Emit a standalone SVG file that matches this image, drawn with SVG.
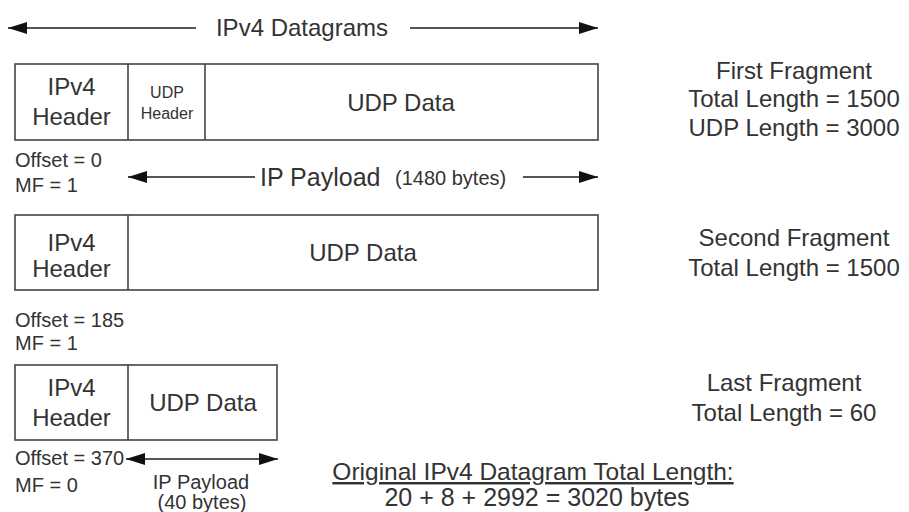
<svg xmlns="http://www.w3.org/2000/svg" width="909" height="512" viewBox="0 0 909 512">
<defs>
<marker id="ah" markerWidth="19" markerHeight="12" refX="19" refY="6" orient="auto-start-reverse" markerUnits="userSpaceOnUse">
<path d="M0,0 L19,6 L0,12 Z" fill="#111"/>
</marker>
<style>
text{font-family:"Liberation Sans",Arial,sans-serif;fill:#333}
.c{text-anchor:middle}
.b{font-size:24px}
.m{font-size:20px}
.s{font-size:16px}
.box{fill:#fff;stroke:#444;stroke-width:1.6}
.div{stroke:#444;stroke-width:1.6}
.arr{stroke:#555;stroke-width:2;fill:none}
</style>
</defs>
<rect width="909" height="512" fill="#fff"/>
<g id="connectors">
<line class="arr" x1="196" y1="28" x2="8" y2="28" marker-end="url(#ah)"/>
<line class="arr" x1="410" y1="28" x2="598" y2="28" marker-end="url(#ah)"/>
<line class="arr" x1="255" y1="177" x2="128" y2="177" marker-end="url(#ah)"/>
<line class="arr" x1="523" y1="177" x2="598" y2="177" marker-end="url(#ah)"/>
<line class="arr" x1="126" y1="459" x2="278" y2="459" marker-start="url(#ah)" marker-end="url(#ah)"/>
</g>
<g id="title"><text class="b c" x="302" y="36">IPv4 Datagrams</text></g>
<g id="frag1">
<rect class="box" x="15" y="64" width="583" height="76"/>
<line class="div" x1="128" y1="64" x2="128" y2="140"/>
<line class="div" x1="205" y1="64" x2="205" y2="140"/>
<text class="b c" x="71.5" y="95">IPv4</text>
<text class="b c" x="71.5" y="125">Header</text>
<text class="s c" x="167" y="98">UDP</text>
<text class="s c" x="167" y="119">Header</text>
<text class="b c" x="401" y="111">UDP Data</text>
</g>
<g id="frag1-info">
<text class="m" x="15" y="167">Offset = 0</text>
<text class="m" x="15" y="192">MF = 1</text>
<text x="260" y="186" style="font-size:25px">IP Payload</text>
<text class="m" x="395" y="185">(1480 bytes)</text>
</g>
<g id="frag2">
<rect class="box" x="15" y="215" width="583" height="75"/>
<line class="div" x1="128" y1="215" x2="128" y2="290"/>
<text class="b c" x="71.5" y="251">IPv4</text>
<text class="b c" x="71.5" y="277">Header</text>
<text class="b c" x="363" y="261">UDP Data</text>
</g>
<g id="frag2-info">
<text class="m" x="15" y="327">Offset = 185</text>
<text class="m" x="15" y="350">MF = 1</text>
</g>
<g id="frag3">
<rect class="box" x="15" y="365" width="262" height="75"/>
<line class="div" x1="128" y1="365" x2="128" y2="440"/>
<text class="b c" x="71.5" y="396">IPv4</text>
<text class="b c" x="71.5" y="426">Header</text>
<text class="b c" x="203" y="411">UDP Data</text>
</g>
<g id="frag3-info">
<text class="m" x="15" y="465">Offset = 370</text>
<text class="m" x="15" y="492">MF = 0</text>
<text class="m c" x="201" y="489">IP Payload</text>
<text class="m c" x="202" y="509">(40 bytes)</text>
</g>
<g id="labels">
<text class="b c" x="794" y="79">First Fragment</text>
<text class="b c" x="794" y="107">Total Length = 1500</text>
<text class="b c" x="794" y="136">UDP Length = 3000</text>
<text class="b c" x="794" y="246">Second Fragment</text>
<text class="b c" x="794" y="276">Total Length = 1500</text>
<text class="b c" x="784" y="391">Last Fragment</text>
<text class="b c" x="784" y="421">Total Length = 60</text>
</g>
<g id="summary">
<text class="c" x="533" y="480" style="font-size:24.5px;text-decoration:underline">Original IPv4 Datagram Total Length:</text>
<text class="c" x="537" y="506" style="font-size:25px">20 + 8 + 2992 = 3020 bytes</text>
</g>
</svg>
